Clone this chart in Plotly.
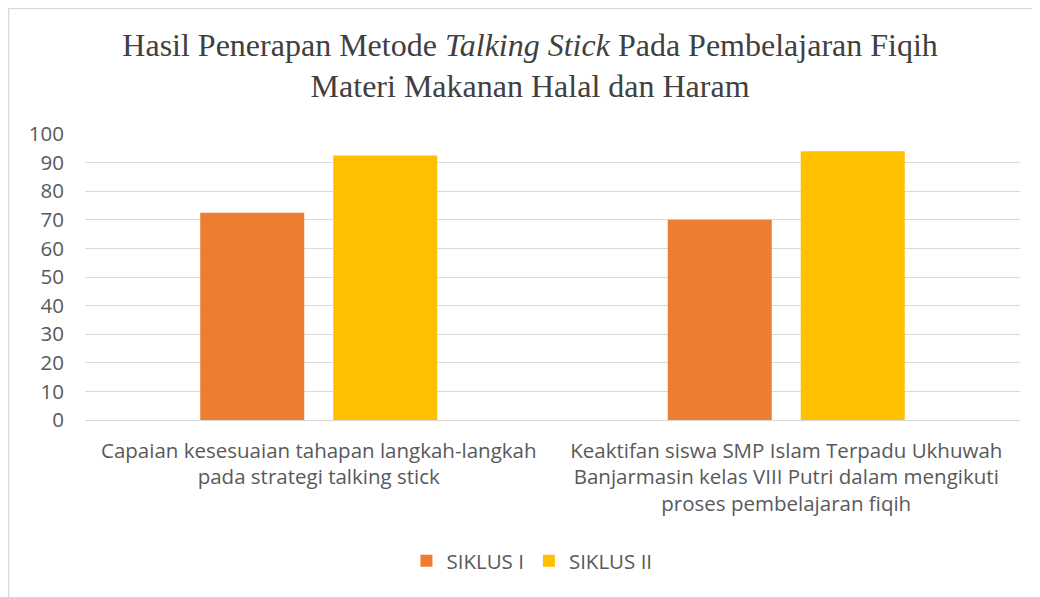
import plotly.graph_objects as go

categories = [
    "Capaian kesesuaian tahapan langkah-langkah<br>pada strategi talking stick",
    "Keaktifan siswa SMP Islam Terpadu Ukhuwah<br>Banjarmasin kelas VIII Putri dalam mengikuti<br>proses pembelajaran fiqih",
]
siklus1 = [72.5, 70]
siklus2 = [92.5, 94]
series_names = ["SIKLUS I", "SIKLUS II"]
y_ticks = [0, 10, 20, 30, 40, 50, 60, 70, 80, 90, 100]

font_sans = "'Open Sans', sans-serif"

fig = go.Figure()
fig.add_trace(go.Bar(x=categories, y=siklus1, name=series_names[0],
                     marker=dict(color="#ED7D31", line=dict(width=0))))
fig.add_trace(go.Bar(x=categories, y=siklus2, name=series_names[1],
                     marker=dict(color="#FFC000", line=dict(width=0))))

fig.update_layout(
    width=1040, height=597,
    margin=dict(l=77, r=28, t=126, b=185),
    paper_bgcolor="white", plot_bgcolor="white",
    barmode="group", bargap=0.431, bargroupgap=0.218,
    title=dict(
        text="Hasil Penerapan Metode <i>Talking Stick</i> Pada Pembelajaran Fiqih<br>Materi Makanan Halal dan Haram",
        x=0.502, xanchor="center", y=0.92, yanchor="middle",
        font=dict(family="'Liberation Serif', 'Times New Roman', serif", size=32, color="#404040"),
    ),
    xaxis=dict(
        tickfont=dict(family=font_sans, size=20.5, color="#595959"),
        showline=True, linecolor="#D9D9D9", linewidth=1,
        ticks="", automargin=False, ticklabelstandoff=12,
    ),
    yaxis=dict(
        range=[0, 100], tickvals=y_ticks,
        tickfont=dict(family=font_sans, size=20.5, color="#595959"),
        gridcolor="#D9D9D9", gridwidth=1,
        zeroline=False, ticklabelstandoff=20, automargin=False,
    ),
    legend=dict(
        orientation="h", x=0.478, xanchor="center", y=-0.493, yanchor="middle",
        font=dict(family=font_sans, size=20.5, color="#595959"),
        itemwidth=30, traceorder="normal",
    ),
    showlegend=True,
    shapes=[dict(type="rect", xref="paper", yref="paper",
                 x0=-76.5/935, x1=1.05, y0=-0.7, y1=1 + 125.5/286,
                 line=dict(color="#D9D9D9", width=1.5), fillcolor="rgba(0,0,0,0)")],
)

fig.write_html("out.html")
